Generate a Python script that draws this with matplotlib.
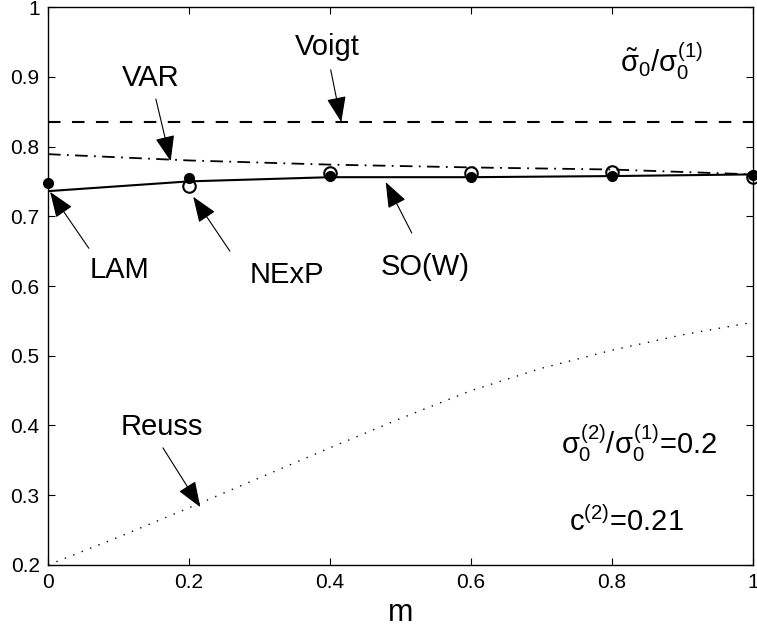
import matplotlib
matplotlib.use("Agg")
from matplotlib import pyplot as plt
from matplotlib.ticker import FormatStrFormatter

plt.rcParams['font.family'] = ['Liberation Sans', 'DejaVu Sans']
plt.rcParams['mathtext.fontset'] = 'custom'
plt.rcParams['mathtext.rm'] = 'Liberation Sans'
plt.rcParams['mathtext.it'] = 'Liberation Sans'
plt.rcParams['mathtext.bf'] = 'Liberation Sans'

# values
m = [0.0, 0.2, 0.4, 0.6, 0.8, 1.0]
voigt = [0.835, 0.835, 0.835, 0.835, 0.835, 0.835]
var = [0.789, 0.780, 0.774, 0.770, 0.767, 0.760]
sow = [0.736, 0.750, 0.756, 0.756, 0.7576, 0.760]
lam_pts = [0.747, 0.755, 0.757, 0.756, 0.758, 0.759]
m_nexp = [0.2, 0.4, 0.6, 0.8, 1.0]
nexp_pts = [0.743, 0.762, 0.762, 0.763, 0.756]
m_reuss = [0.0, 0.1, 0.2, 0.3, 0.4, 0.5, 0.6, 0.7, 0.8, 0.9, 1.0]
reuss = [0.200, 0.240, 0.282, 0.325, 0.368, 0.410, 0.450, 0.482, 0.508, 0.530, 0.548]

fig = plt.figure(figsize=(7.57, 6.31), dpi=100)
ax = fig.add_axes([0.0634, 0.1046, 0.9313, 0.8843])

ax.plot(m, voigt, color='k', lw=1.5, dashes=(6, 5.5))
ax.plot(m, var, color='k', lw=1.3, dashes=(7, 3.5, 1, 3.5))
ax.plot(m, sow, color='k', lw=1.5)
ax.plot(m_reuss, reuss, color='k', lw=1.0, dashes=(1, 5.5))
ax.plot(m, lam_pts, 'o', color='k', ms=7, clip_on=False, zorder=4)
ax.plot(m_nexp, nexp_pts, 'o', mfc='none', mec='k', mew=1.5, ms=9,
        clip_on=False, zorder=5)

ax.set_xlim(0, 1)
ax.set_ylim(0.2, 1)
ax.set_xticks([0, 0.2, 0.4, 0.6, 0.8, 1])
ax.set_yticks([0.2, 0.3, 0.4, 0.5, 0.6, 0.7, 0.8, 0.9, 1])
ax.xaxis.set_major_formatter(FormatStrFormatter('%g'))
ax.yaxis.set_major_formatter(FormatStrFormatter('%g'))
ax.tick_params(direction='in', top=True, right=True, length=5,
               width=0.8, labelsize=15, pad=6)
for s in ax.spines.values():
    s.set_linewidth(1.0)
ax.set_xlabel('m', fontsize=22, labelpad=4)

arr = dict(arrowstyle='-|>,head_length=1.0,head_width=0.38', color='k',
           lw=0.8, mutation_scale=16, shrinkA=0, shrinkB=0)

def label(txt, tx, ty, tail, head):
    ax.text(tx, ty, txt, fontsize=21, ha='center', va='center')
    ax.annotate('', xy=head, xytext=tail, arrowprops=arr)

label('Voigt', 0.396, 0.943, (0.401, 0.910), (0.416, 0.835))
label('VAR', 0.145, 0.898, (0.153, 0.868), (0.174, 0.779))
label('LAM', 0.102, 0.623, (0.058, 0.654), (0.003, 0.735))
label('NExP', 0.339, 0.616, (0.258, 0.650), (0.206, 0.728))
label('SO(W)', 0.535, 0.627, (0.516, 0.676), (0.479, 0.749))
label('Reuss', 0.162, 0.398, (0.163, 0.368), (0.216, 0.283))

ax.text(0.87, 0.922, r'$\tilde{\sigma}_0/\sigma_0^{(1)}$', fontsize=21,
        ha='center', va='center')
ax.text(0.838, 0.375, r'$\sigma_0^{(2)}/\sigma_0^{(1)}$=0.2', fontsize=21,
        ha='center', va='center')
ax.text(0.82, 0.262, r'c$^{(2)}$=0.21', fontsize=21, ha='center', va='center')

fig.savefig('out.png', dpi=100)
